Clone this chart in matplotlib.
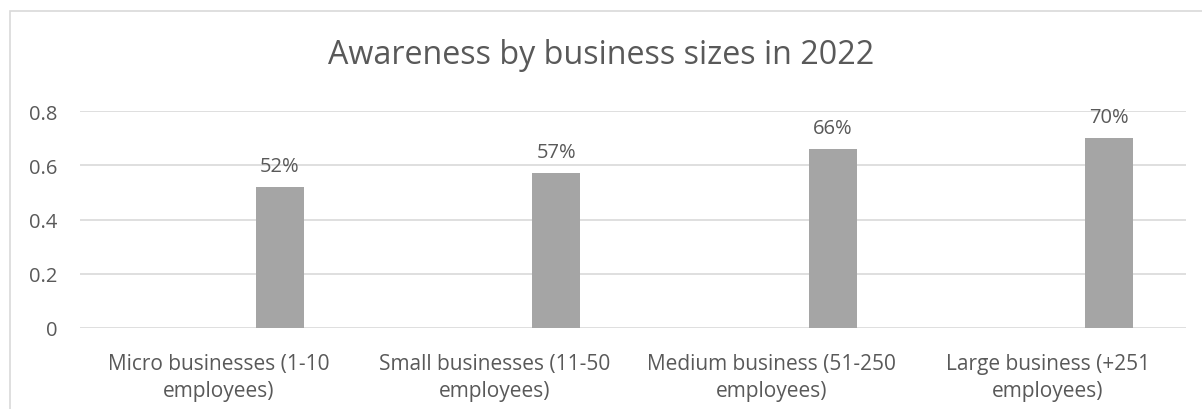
import matplotlib.pyplot as plt
import matplotlib.patches as mpatches
import numpy as np

# chart data
categories = [
    "Micro businesses (1-10\nemployees)",
    "Small businesses (11-50\nemployees)",
    "Medium business (51-250\nemployees)",
    "Large business (+251\nemployees)",
]
awareness = [0.52, 0.57, 0.66, 0.70]
bar_labels = ["52%", "57%", "66%", "70%"]
y_ticks = [0, 0.2, 0.4, 0.6, 0.8]
y_tick_labels = ["0", "0.2", "0.4", "0.6", "0.8"]

TEXT = "#595959"
GRID = "#D9D9D9"
BAR = "#A5A5A5"

plt.rcParams["font.family"] = ["Open Sans", "DejaVu Sans"]

W, H = 1202, 410
fig = plt.figure(figsize=(W / 100, H / 100), dpi=100)

# chart area border (Excel style)
fig.patches.append(mpatches.Rectangle(
    (10 / W, -0.05), 1.2, (H - 12) / H + 0.05,
    transform=fig.transFigure, fill=False, edgecolor=GRID, linewidth=1.2))

ax = fig.add_axes([80 / W, (H - 329) / H, (1186 - 80) / W, (329 - 112) / H])

x = np.arange(len(categories))
offset = 0.222
bars = ax.bar(x + offset, awareness, width=0.173, color=BAR, zorder=3)

for rect, lab in zip(bars, bar_labels):
    ax.annotate(lab, (rect.get_x() + rect.get_width() / 2, rect.get_height()),
                xytext=(0, 11), textcoords="offset pixels",
                ha="center", va="bottom", fontsize=14.5, color=TEXT)

ax.set_xlim(-0.5, len(categories) - 0.5)
ax.set_ylim(0, 0.8)
ax.set_yticks(y_ticks)
ax.set_yticklabels(y_tick_labels)
ax.set_xticks(x)
ax.set_xticklabels(categories, linespacing=1.35, fontsize=15)

ax.grid(axis="y", color=GRID, linewidth=1.2, zorder=0)
for s in ax.spines.values():
    s.set_visible(False)
ax.tick_params(axis="both", length=0, labelsize=14.5, labelcolor=TEXT)
ax.tick_params(axis="x", labelsize=15)
ax.tick_params(axis="y", pad=16)
ax.tick_params(axis="x", pad=18)

fig.text(0.5, (H - 56) / H, "Awareness by business sizes in 2022",
         ha="center", va="center", fontsize=23.2, color=TEXT)

fig.savefig("out.png", dpi=100)
plt.close(fig)
